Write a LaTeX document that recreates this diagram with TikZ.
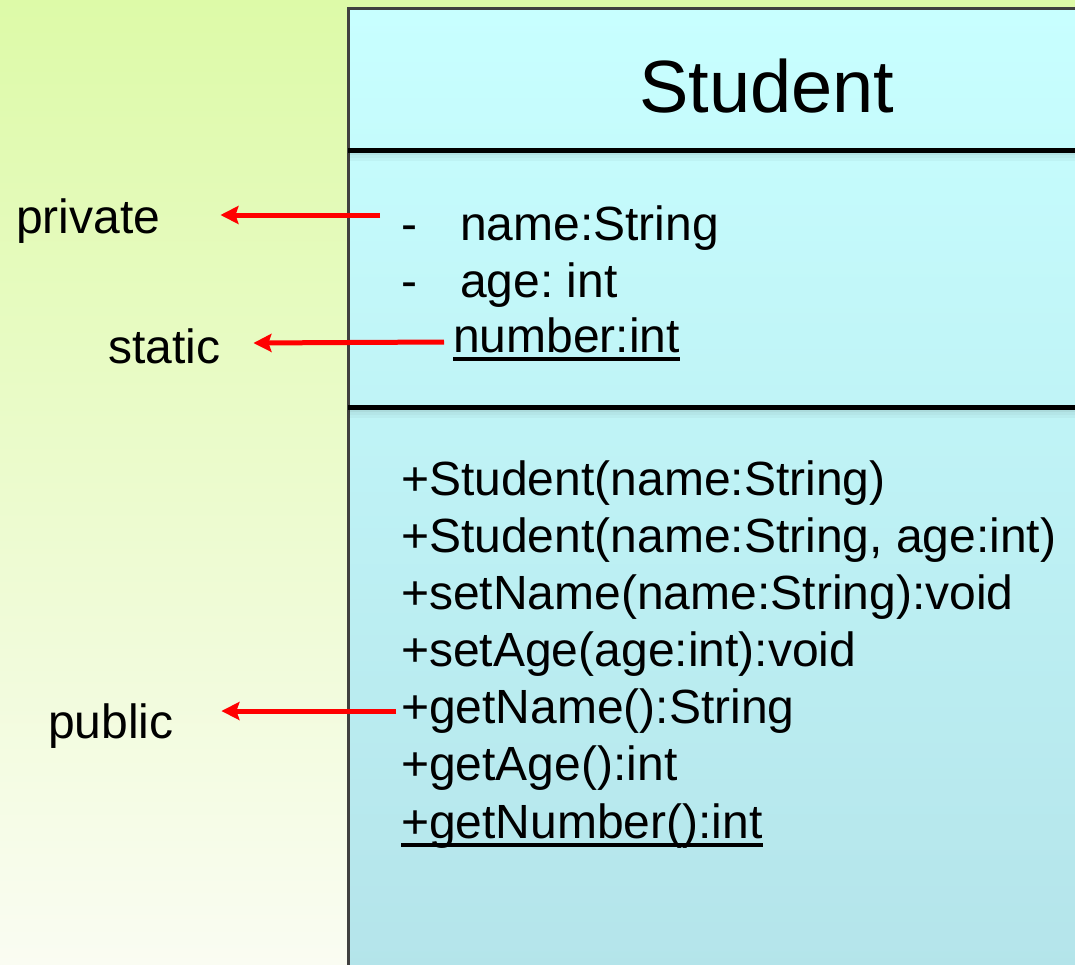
\documentclass[tikz,border=0pt]{standalone}
\usepackage{fontspec}
\setmainfont{Liberation Sans}
\usetikzlibrary{arrows.meta}
\definecolor{bgtop}{RGB}{221,250,168}
\definecolor{bgbot}{RGB}{250,252,242}
\definecolor{boxtop}{RGB}{200,255,255}
\definecolor{boxbot}{RGB}{180,228,234}
\definecolor{edgegray}{RGB}{64,64,64}
\newcommand{\myul}[1]{\setbox0\hbox{#1}\rlap{\rule[-9pt]{\wd0}{3.6pt}}\box0}
\begin{document}
\begin{tikzpicture}[x=1pt,y=-1pt,
  txt/.style={anchor=base west, inner sep=0pt, font=\fontsize{48}{57}\selectfont\frenchspacing},
  titletxt/.style={anchor=base west, inner sep=0pt, font=\fontsize{74}{88}\selectfont},
  arr/.style={draw=red, line width=5pt, -{Stealth[length=18pt,width=18pt,inset=3pt]}},
  divider/.style={line width=5pt, draw=black}]
\useasboundingbox (0,0) rectangle (1075,964);
\shade[top color=bgtop, bottom color=bgbot] (0,0) rectangle (1075,964);
% class box
\shade[top color=boxtop, bottom color=boxbot] (348,8) rectangle (1090,975);
\draw[edgegray, line width=3pt] (348,975) -- (348,8) -- (1090,8);
\foreach \y in {150,407} {
  \fill[black,opacity=0.10] (349,\y+2) rectangle (1090,\y+5);
  \fill[black,opacity=0.06] (349,\y+5) rectangle (1090,\y+8);
  \fill[black,opacity=0.03] (349,\y+8) rectangle (1090,\y+11);
}
\draw[divider] (348,150) -- (1090,150);
\draw[divider] (348,407) -- (1090,407);
% title
\node[titletxt] (title) at (639,112) {Student};
% attributes
\node[txt] (v1) at (401,240) {-};
\node[txt] (a1) at (460,240) {name:String};
\node[txt] (v2) at (401,297) {-};
\node[txt] (a2) at (460,297) {age: int};
\node[txt] (a3) at (453,352) {\myul{number:int}};
% methods
\node[txt] (m1) at (401,495) {+Student(name:String)};
\node[txt] (m2) at (401,552) {+Student(name:String, age:int)};
\node[txt] (m3) at (401,609) {+setName(name:String):void};
\node[txt] (m4) at (401,666) {+setAge(age:int):void};
\node[txt] (m5) at (401,723) {+getName():String};
\node[txt] (m6) at (401,780) {+getAge():int};
\node[txt] (m7) at (401,838) {\myul{+getNumber():int}};
% labels
\node[txt] (lpriv) at (16,233) {private};
\node[txt] (lstat) at (108,363) {static};
\node[txt] (lpub) at (48,738) {public};
% arrows
\draw[arr] ([shift={(-21pt,25pt)}]v1.base west) -- ([shift={(60pt,18pt)}]lpriv.base east);
\draw[arr] ([shift={(-9pt,10pt)}]a3.base west) -- ([shift={(33pt,20pt)}]lstat.base east);
\draw[arr] ([shift={(-5pt,12pt)}]m5.base west) -- ([shift={(47.6pt,27pt)}]lpub.base east);
\end{tikzpicture}
\end{document}
